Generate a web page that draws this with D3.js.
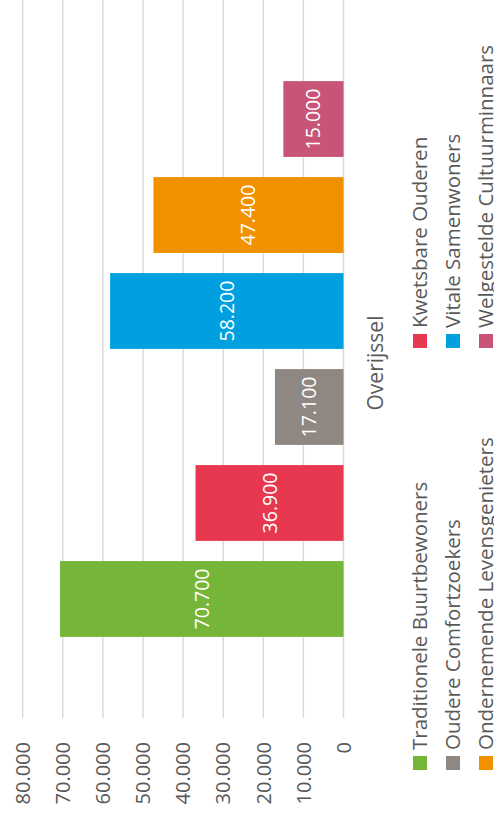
<!DOCTYPE html>
<html>
<head>
<meta charset="utf-8">
<script src="https://cdn.jsdelivr.net/npm/d3@7"></script>
<style>
    body { margin: 0; background: #fff; }
    svg { display: block; font-family: 'Open Sans', sans-serif; }
</style>
</head>
<body>
<svg id="chart" width="494" height="827"></svg>
<script>
var categories = ['Overijssel'];
var series = [
    'Traditionele Buurtbewoners',
    'Kwetsbare Ouderen',
    'Oudere Comfortzoekers',
    'Vitale Samenwoners',
    'Ondernemende Levensgenieters',
    'Welgestelde Cultuurminnaars'
];
var values = [70700, 36900, 17100, 58200, 47400, 15000];
var colors = ['#75b638', '#e8384f', '#8f8882', '#009fe0', '#f29100', '#c85477'];
var tickValues = [0, 10000, 20000, 30000, 40000, 50000, 60000, 70000, 80000];

(function(){
    var svg = d3.select('#chart'),
        width = +svg.attr('width'),
        height = +svg.attr('height');

    // chart is drawn sideways: the usual column chart, turned a quarter to the left
    var W = height, H = width;
    var g = svg.append('g')
        .attr('transform', 'translate(0,' + height + ') rotate(-90)');

    var fmt = function(v) { return d3.format(',')(v).replace(/,/g, '.'); };

    var y = d3.scaleLinear()
        .domain([0, 80000])
        .range([343.5, 22.7]);

    var x0 = d3.scaleBand()
        .domain(categories)
        .range([109, W]);

    var x1 = d3.scaleBand()
        .domain(series)
        .range([0, x0.bandwidth()])
        .paddingInner(0.21)
        .paddingOuter(0.845);

    var color = d3.scaleOrdinal().domain(series).range(colors);

    // gridlines
    g.append('g')
        .selectAll('line')
        .data(tickValues)
        .enter().append('line')
        .attr('x1', 109)
        .attr('x2', W)
        .attr('y1', function(d) { return y(d); })
        .attr('y2', function(d) { return y(d); })
        .attr('stroke', '#d9d9d9')
        .attr('stroke-width', 1.4);

    // tick labels
    g.append('g')
        .selectAll('text')
        .data(tickValues)
        .enter().append('text')
        .attr('x', 85)
        .attr('y', function(d) { return y(d); })
        .attr('dy', '0.36em')
        .attr('text-anchor', 'end')
        .attr('fill', '#595959')
        .style('font-size', '20px')
        .text(fmt);

    var rows = series.map(function(s, i) {
        return { name: s, value: values[i], cat: categories[0] };
    });

    var bar = g.append('g')
        .selectAll('g')
        .data(rows)
        .enter().append('g');

    bar.append('rect')
        .attr('x', function(d) { return x0(d.cat) + x1(d.name); })
        .attr('width', x1.bandwidth())
        .attr('y', function(d) { return y(d.value); })
        .attr('height', function(d) { return y(0) - y(d.value); })
        .attr('fill', function(d) { return color(d.name); });

    bar.append('text')
        .attr('x', function(d) { return x0(d.cat) + x1(d.name) + x1.bandwidth() / 2; })
        .attr('y', function(d) { return (y(d.value) + y(0)) / 2; })
        .attr('dy', '0.36em')
        .attr('text-anchor', 'middle')
        .attr('fill', '#fff')
        .style('font-size', '19.5px')
        .text(function(d) { return fmt(d.value); });

    // category label
    g.append('text')
        .attr('x', x0('Overijssel') + x0.bandwidth() / 2 - 4)
        .attr('y', 383)
        .attr('text-anchor', 'middle')
        .attr('fill', '#595959')
        .style('font-size', '21px')
        .text(categories[0]);

    // legend, two per row
    var legend = g.append('g')
        .selectAll('g')
        .data(series)
        .enter().append('g')
        .attr('transform', function(d, i) {
            var col = i % 2, row = Math.floor(i / 2);
            return 'translate(' + (57 + col * 422) + ',' + (413 + row * 33) + ')';
        });

    legend.append('rect')
        .attr('width', 14)
        .attr('height', 14)
        .attr('fill', function(d) { return color(d); });

    legend.append('text')
        .attr('x', 20)
        .attr('y', 14)
        .attr('fill', '#595959')
        .style('font-size', '20.5px')
        .text(function(d) { return d; });
})();
</script>
</body>
</html>
